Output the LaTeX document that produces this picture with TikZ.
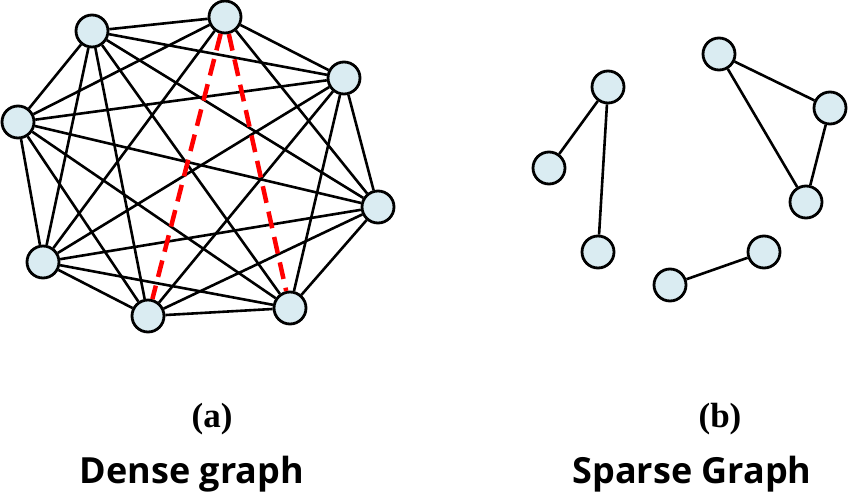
\documentclass[tikz,border=0pt]{standalone}
\usepackage{fontspec}
\newfontfamily\titlefont{Open Sans}
\newfontfamily\tagfont{Liberation Serif}
\definecolor{vfill}{RGB}{218,236,242}

\begin{document}
\begin{tikzpicture}[x=1pt,y=-1pt]
\tikzstyle{vertex}=[circle,draw=black,line width=2.8pt,fill=vfill,minimum size=32pt,inner sep=0pt]
\tikzstyle{link}=[black,line width=2.6pt]
\tikzstyle{gone}=[red,line width=4.5pt,dash pattern=on 17pt off 9pt]
\tikzstyle{tag}=[font=\tagfont\bfseries\fontsize{35}{40}\selectfont,anchor=base,inner sep=0pt]
\tikzstyle{title}=[font=\titlefont\bfseries\fontsize{36}{42}\selectfont,anchor=base,inner sep=0pt]
\useasboundingbox (0,0) rectangle (850,503);

% dense graph
\node[vertex](T) at (225,17) {};
\node[vertex](UL) at (92,31) {};
\node[vertex](UR) at (344,78) {};
\node[vertex](L) at (18,122) {};
\node[vertex](R) at (378,207) {};
\node[vertex](LL) at (43,262) {};
\node[vertex](B) at (148,316) {};
\node[vertex](LR) at (290,308) {};

\foreach \a/\b in {T/UL,T/UR,T/L,T/R,T/LL,
  UL/UR,UL/L,UL/R,UL/LL,UL/B,UL/LR,
  UR/L,UR/R,UR/LL,UR/B,UR/LR,
  L/R,L/LL,L/B,L/LR,
  R/LL,R/B,R/LR,
  LL/B,LL/LR,B/LR}
  \draw[link] (\a) -- (\b);
\draw[gone] (T) -- (B);
\draw[gone] (T) -- (LR);

% sparse graph
\node[vertex](A) at (608,87) {};
\node[vertex](Ab) at (549,168) {};
\node[vertex](Ac) at (598,252) {};
\node[vertex](D) at (719,54) {};
\node[vertex](E) at (830,108) {};
\node[vertex](F) at (806,202) {};
\node[vertex](G) at (764,252) {};
\node[vertex](H) at (670,285) {};

\draw[link] (A) -- (Ab);
\draw[link] (A) -- (Ac);
\draw[link] (D) -- (E);
\draw[link] (D) -- (F);
\draw[link] (E) -- (F);
\draw[link] (G) -- (H);

% captions
\node[tag](tagA) at (212,427) {(a)};
\node[tag](tagB) at (720,427) {(b)};
\node[title](dense) at (192,483) {Dense graph};
\node[title](sparse) at (692,483) {Sparse Graph};
\end{tikzpicture}
\end{document}
